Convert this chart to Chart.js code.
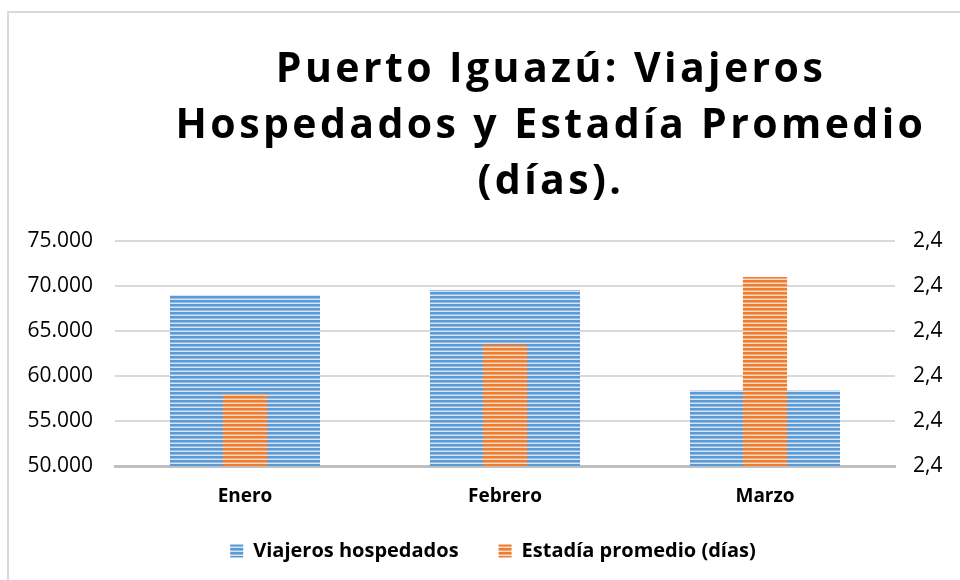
<!DOCTYPE html>
<html>
<head>
<meta charset="utf-8">
<script src="https://cdn.jsdelivr.net/npm/chart.js@4"></script>
<style>
  body { margin: 0; background: #fff; }
  #wrap { position: relative; width: 960px; height: 580px; overflow: hidden; }
  #frame { position: absolute; left: 7px; top: 11px; width: 970px; height: 590px; border: 2px solid #d9d9d9; box-sizing: border-box; }
  #title {
    position: absolute; left: 151px; top: 38px; width: 800px;
    text-align: center; font-family: "Open Sans", sans-serif; font-weight: bold;
    font-size: 41px; letter-spacing: 3.4px; line-height: 56px; color: #000;
  }
  canvas { position: absolute; left: 0; top: 0; }
</style>
</head>
<body>
<div id="wrap">
  <div id="frame"></div>
  <canvas id="chart" width="960" height="580"></canvas>
  <div id="title">Puerto Iguazú: Viajeros<br>Hospedados y Estadía Promedio<br>(días).</div>
</div>
<script>
// Datos
const meses = ["Enero", "Febrero", "Marzo"];
const viajeros = [69000, 69550, 58400];
const estadia = [2.396, 2.407, 2.422];
const nombres = ["Viajeros hospedados", "Estadía promedio (días)"];

// rayas horizontales como en Excel
function rayas(oscuro, medio, claro) {
  const c = document.createElement("canvas");
  c.width = 4; c.height = 4;
  const g = c.getContext("2d");
  g.fillStyle = oscuro; g.fillRect(0, 0, 4, 2);
  g.fillStyle = medio; g.fillRect(0, 2, 4, 1);
  g.fillStyle = claro; g.fillRect(0, 3, 4, 1);
  return g.createPattern(c, "repeat");
}

const ctx = document.getElementById("chart").getContext("2d");
const azul = rayas("#5b9bd5", "#93bbe4", "#d6e5f5");
const naranja = rayas("#ed7d31", "#f3a875", "#fbdcc6");

const fuente = "'Open Sans', sans-serif";

// las etiquetas se recortan a la caja de cada eje, se agrandan un poco
const sinRecorte = {
  id: "sinRecorte",
  afterLayout(chart) {
    chart.scales.x.bottom += 25;
    chart.scales.y.left = 0;
  }
};

new Chart(ctx, {
  type: "bar",
  data: {
    labels: meses,
    datasets: [
      { label: nombres[0], data: viajeros, backgroundColor: azul, yAxisID: "y",
        grouped: false, categoryPercentage: 1, barPercentage: 0.577, order: 2 },
      { label: nombres[1], data: estadia, backgroundColor: naranja, yAxisID: "y1",
        grouped: false, categoryPercentage: 1, barPercentage: 0.17, order: 1 }
    ]
  },
  plugins: [sinRecorte],
  options: {
    responsive: false,
    animation: false,
    layout: { padding: { top: 241, left: 36, right: 10, bottom: 9 } },
    plugins: {
      tooltip: { enabled: false },
      legend: {
        position: "bottom",
        labels: {
          sort: (a, b) => a.datasetIndex - b.datasetIndex,
          boxWidth: 13, boxHeight: 13, padding: 40,
          color: "#000",
          font: { family: fuente, size: 20, weight: "bold" }
        }
      }
    },
    scales: {
      x: {
        grid: { display: false },
        border: { color: "#bfbfbf", width: 3 },
        ticks: { color: "#000", padding: 11, font: { family: fuente, size: 19, weight: "bold" } },
        afterFit: s => { s.height = 35; }
      },
      y: {
        position: "left",
        min: 50000, max: 75000,
        grid: { color: "#d9d9d9", lineWidth: 2, drawTicks: false },
        border: { display: false },
        ticks: {
          stepSize: 5000, padding: 22, color: "#000",
          font: { family: fuente, size: 21 },
          callback: v => v.toLocaleString("de-DE", { minimumFractionDigits: 3 }).replace(",000", "")
        },
        afterFit: s => { s.width = 79; }
      },
      y1: {
        position: "right",
        min: 2.38, max: 2.43,
        grid: { display: false, drawTicks: false },
        border: { display: false },
        ticks: {
          stepSize: 0.01, padding: 18, color: "#000",
          font: { family: fuente, size: 21 },
          callback: v => v.toFixed(1).replace(".", ",")
        },
        afterFit: s => { s.width = 55; }
      }
    }
  }
});
</script>
</body>
</html>
